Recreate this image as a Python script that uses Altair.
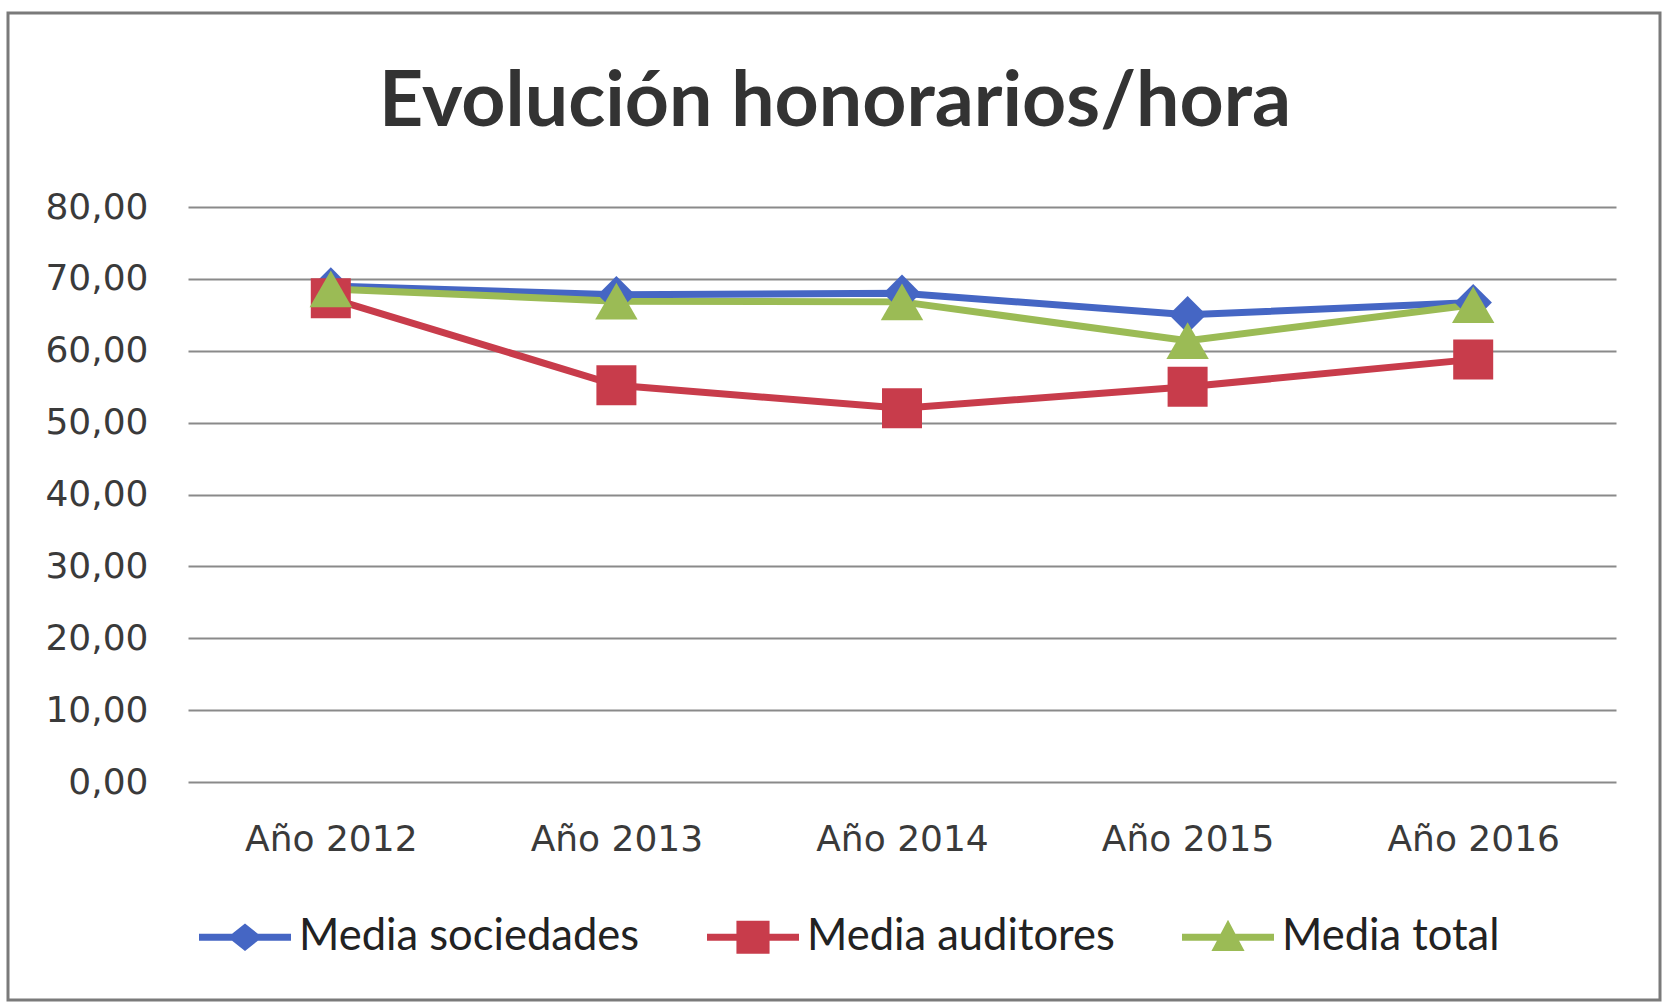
import altair as alt
import pandas as pd

years = ["Año 2012", "Año 2013", "Año 2014", "Año 2015", "Año 2016"]
series_names = ["Media sociedades", "Media auditores", "Media total"]
sociedades = [69.0, 67.8, 68.0, 65.0, 66.7]
auditores = [67.3, 55.2, 52.0, 55.0, 58.8]
total = [68.6, 66.9, 66.8, 61.4, 66.4]
colors = ["#4566C4", "#C83C4B", "#9BBB55"]

rows = []
for name, vals in zip(series_names, [sociedades, auditores, total]):
    for y, v in zip(years, vals):
        rows.append({"anio": y, "serie": name, "valor": v})
df = pd.DataFrame(rows)

W, H = 1428, 575
LEFT, TOP = 188, 207

leg_diamond = "M-1,-0.076H-0.28L0,-0.3L0.28,-0.076H1V0.076H0.28L0,0.3L-0.28,0.076H-1Z"
leg_square = "M-1,-0.076H-0.36V-0.36H0.36V-0.076H1V0.076H0.36V0.36H-0.36V0.076H-1Z"
leg_tri = "M-1,-0.076H-0.161L0,-0.38L0.161,-0.076H1V0.076H0.241L0.36,0.3H-0.36L-0.241,0.076H-1Z"

x_enc = alt.X(
    "anio:N",
    sort=years,
    scale=alt.Scale(type="point", padding=0.5),
    axis=alt.Axis(
        title=None, labelAngle=0, ticks=False, domain=False, grid=False,
        labelFont="DejaVu Sans", labelFontSize=36, labelColor="#3a3a3a",
        labelPadding=40,
    ),
)
y_enc = alt.Y(
    "valor:Q",
    scale=alt.Scale(domain=[0, 80], nice=False),
    axis=alt.Axis(
        title=None, values=[0, 10, 20, 30, 40, 50, 60, 70, 80],
        labelExpr="replace(format(datum.value, '.2f'), '.', ',')",
        ticks=False, domain=False, grid=True, gridColor="#8a8a8a", gridWidth=2,
        labelFont="DejaVu Sans", labelFontSize=36, labelColor="#3a3a3a",
        labelPadding=40,
    ),
)
color_scale = alt.Scale(domain=series_names, range=colors)

lines = alt.Chart(df).mark_line(strokeWidth=7).encode(
    x=x_enc, y=y_enc,
    color=alt.Color("serie:N", scale=color_scale, legend=None),
    detail="serie:N",
)

points = alt.Chart(df).mark_point(filled=True, opacity=1, strokeWidth=0).encode(
    x=x_enc, y=y_enc,
    color=alt.Color("serie:N", scale=color_scale, legend=None),
    shape=alt.Shape("serie:N", scale=alt.Scale(domain=series_names, range=["diamond", "square", "triangle-up"]), legend=None),
    size=alt.Size("serie:N", scale=alt.Scale(domain=series_names, range=[1400, 1800, 1600]), legend=None),
)

leg = alt.Legend(
    title=None, orient="none", legendX=11, legendY=684,
    direction="horizontal", columns=3, columnPadding=67,
    symbolSize=8464, symbolStrokeWidth=0, symbolOpacity=1, labelOffset=8,
    labelFont="Lato", labelFontSize=43.5, labelColor="#222222",
    labelLimit=0,
)

legend_layer = alt.Chart(df).mark_point(filled=True, opacity=0, strokeWidth=0).encode(
    x=x_enc, y=y_enc,
    color=alt.Color("serie:N", scale=color_scale, legend=leg),
    shape=alt.Shape(
        "serie:N",
        scale=alt.Scale(domain=series_names, range=[leg_diamond, leg_square, leg_tri]),
        legend=leg,
    ),
)

frame = alt.Chart(pd.DataFrame({"k": [0]})).mark_rect(
    fill="transparent", stroke="#7a7a7a", strokeWidth=3
).encode(
    x=alt.value(8 - LEFT), x2=alt.value(1660 - LEFT),
    y=alt.value(13 - TOP), y2=alt.value(1000 - TOP),
)

chart = alt.layer(frame, lines, points, legend_layer).resolve_scale(
    shape="independent", color="independent"
).resolve_legend(shape="independent", color="independent").properties(
    width=W, height=H,
    title=alt.TitleParams(
        "Evolución honorarios/hora", font="Lato", fontWeight="bold", fontSize=77,
        color="#333333", anchor="middle", frame="group", dx=-67, offset=-191,
        baseline="alphabetic",
    ),
    background="white",
    autosize=alt.AutoSizeParams(type="none"),
    padding={"left": LEFT, "top": TOP, "right": 1662 - LEFT - W, "bottom": 1004 - TOP - H},
).configure_view(stroke=None)

chart.save("out.html", embed_options={"renderer": "svg", "actions": False})
